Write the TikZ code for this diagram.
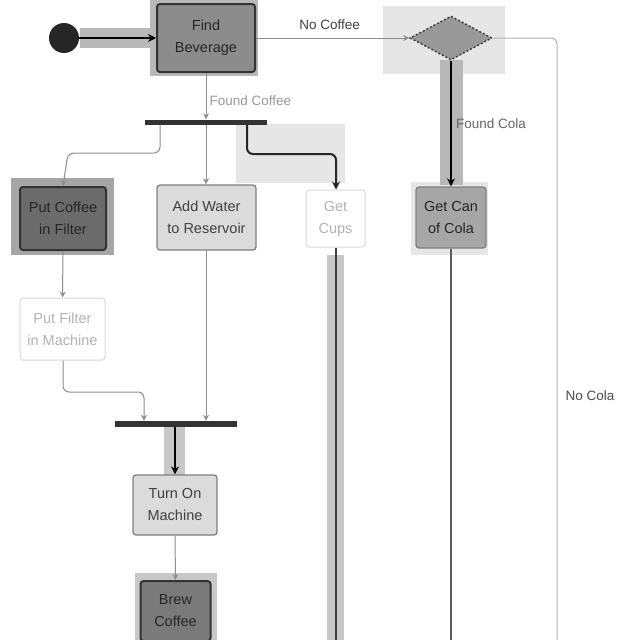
\documentclass[tikz,border=0pt]{standalone}
\usepackage{fontspec}
\setmainfont{Liberation Sans}
\usetikzlibrary{shapes.geometric,arrows.meta}
\definecolor{hlA}{HTML}{E6E6E6}
\definecolor{hlB}{HTML}{B8B8B8}
\definecolor{hlC}{HTML}{C8C8C8}
\definecolor{thin}{HTML}{8E8E8E}
\tikzset{
  act/.style={rectangle, rounded corners=3pt, align=center, inner sep=1pt, font=\fontsize{14.5}{22}\selectfont},
  darkact/.style={act, fill=#1, draw=black!80, line width=2pt, text=black!85},
  lightact/.style={act, fill=#1, draw=black!50, line width=1.3pt, text=black!75},
  paleact/.style={act, fill=white, draw=black!15, line width=1pt, text=black!30},
  bar/.style={rectangle, fill=black!80, inner sep=0pt, minimum width=122pt, minimum height=5pt},
  thinflow/.style={draw=thin, line width=1pt, -{Stealth[length=6pt,width=6pt]}, rounded corners=6pt},
  thickflow/.style={draw=black, line width=2pt, -{Stealth[length=8pt,width=8pt]}, rounded corners=6pt},
  lbl/.style={font=\fontsize{13.5}{16}\selectfont, inner sep=1pt},
}
\begin{document}
\begin{tikzpicture}[x=1pt,y=-1pt]
\useasboundingbox[fill=white] (0,0) rectangle (640,640);
% highlight backgrounds
\fill[hlB] (150,0) rectangle (258,76);
\fill[hlA] (383,6) rectangle (505,74);
\fill[hlA] (236,124) rectangle (345,183);
\fill[hlA] (411,182) rectangle (488,255);
\fill[black!35] (11,178) rectangle (114,255);
\fill[hlC] (135,573) rectangle (217,640);
\fill[hlB] (80,28) rectangle (153,48);
\fill[hlB] (440,60) rectangle (463,185);
\fill[hlC] (164,427) rectangle (185,475);
\fill[hlC] (327,255) rectangle (344,640);

% nodes
\node[circle, fill=black!85, minimum size=30pt, inner sep=0pt] (start) at (64,38) {};
\node[darkact=black!45, minimum width=98pt, minimum height=68pt] (find) at (206,38) {Find\\Beverage};
\node[diamond, fill=black!40, draw=black!75, dash pattern=on 2pt off 2pt, line width=1.5pt, minimum width=82pt, minimum height=44pt, inner sep=0pt] (dec) at (451,38) {};
\node[lightact=black!35, minimum width=70pt, minimum height=61pt, text=black!85] (cola) at (451,217.5) {Get Can\\of Cola};
\node[bar] (fork) at (206,122) {};
\node[darkact=black!58, minimum width=86pt, minimum height=63pt] (filter) at (63,218.5) {Put Coffee\\in Filter};
\node[lightact=black!14, minimum width=99pt, minimum height=65pt] (water) at (206.5,217.5) {Add Water\\to Reservoir};
\node[paleact, minimum width=59pt, minimum height=57pt] (cups) at (335.5,218.5) {Get\\Cups};
\node[paleact, minimum width=85pt, minimum height=62pt] (pfilter) at (62.5,329) {Put Filter\\in Machine};
\node[bar, minimum height=6pt] (join) at (176,424) {};
\node[lightact=black!14, minimum width=84pt, minimum height=60pt] (turn) at (175,505) {Turn On\\Machine};
\node[darkact=black!52, minimum width=70pt, minimum height=60pt] (brew) at (175.5,611) {Brew\\Coffee};

\coordinate (nocolaend) at (557,645);
\coordinate (colaend) at (451,645);
\coordinate (cupsend) at (335.5,645);

% connectors
\draw[thickflow] (start) -- (find);
\draw[thinflow] (find) -- node[lbl, above, pos=0.48, yshift=7pt, text=black!75] (lnocoffee) {No Coffee} (dec);
\draw[draw=black!30, line width=1pt, rounded corners=6pt] (dec.east) -| (nocolaend);
\node[lbl, text=black!70] (lnocola) at (590,396) {No Cola};
\draw[thickflow] (dec) -- node[lbl, right, pos=0.5, xshift=3pt, text=black!60] (lfoundcola) {Found Cola} (cola);
\draw[draw=black!65, line width=1.5pt] (cola) -- (colaend);
\draw[thinflow] (find) -- node[lbl, right, pos=0.6, xshift=2pt, text=black!40] (lfoundcoffee) {Found Coffee} (fork);
\draw[thinflow] (fork.south -| 160,0) |- (68,153) -- (filter.north -| 63,0);
\draw[thinflow] (fork.south -| 206,0) -- (water.north -| 206,0);
\draw[thickflow, draw=black!85] (fork.south -| 247,0) |- (336,154) -- (cups.north -| 336,0);
\draw[draw=black!75, line width=2pt] (cups) -- (cupsend);
\draw[thinflow] (filter) -- (pfilter);
\draw[thinflow] (pfilter.south -| 63,0) |- (144,392) -- (join.north -| 144,0);
\draw[thinflow] (water.south -| 206,0) -- (join.north -| 206,0);
\draw[thickflow] (join.south -| 175,0) -- (turn.north -| 175,0);
\draw[thinflow] (turn) -- (brew);
\end{tikzpicture}
\end{document}
